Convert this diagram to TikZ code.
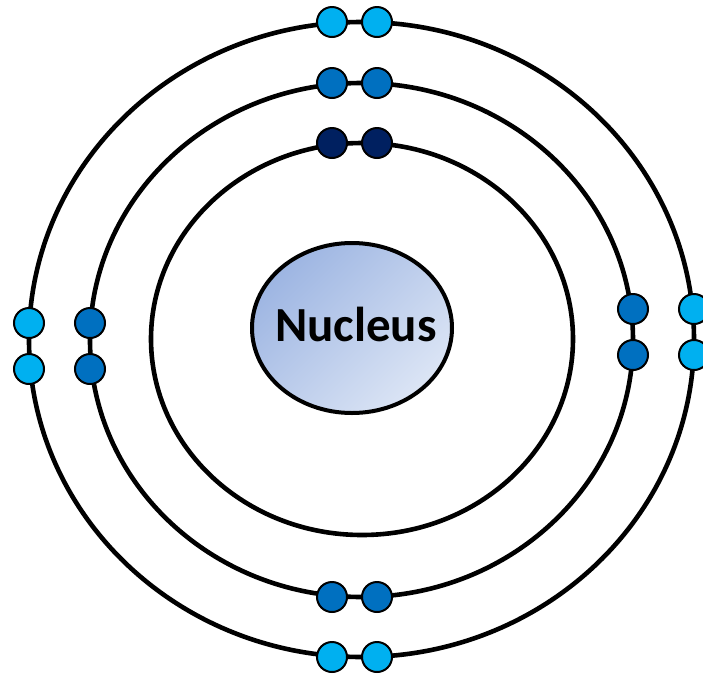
\documentclass[tikz,border=0pt]{standalone}
\usepackage{fontspec}
\setmainfont{Carlito}
\usetikzlibrary{shapes.geometric}
\definecolor{shellA}{HTML}{002060}
\definecolor{shellB}{HTML}{0070C0}
\definecolor{shellC}{HTML}{00B0F0}
\definecolor{nucDark}{HTML}{9DB5E2}
\definecolor{nucLight}{HTML}{DCE5F5}
\begin{document}
\begin{tikzpicture}[x=0.5pt,y=-0.5pt,
  orbit/.style={draw=black,line width=2.3pt},
  elec/.style={circle,draw=black,line width=1pt,minimum size=15pt,inner sep=0pt},
  inner/.style={elec,fill=shellA},
  middle/.style={elec,fill=shellB},
  outer/.style={elec,fill=shellC}]
\useasboundingbox (0,0) rectangle (703,676);
% shells
\draw[orbit] (362,339) ellipse [x radius=211,y radius=196];
\draw[orbit] (361.5,340) ellipse [x radius=271.5,y radius=257];
\draw[orbit] (361.5,339.5) ellipse [x radius=332.5,y radius=317.5];
% nucleus
\node[ellipse,draw=black,line width=2pt,minimum width=100pt,minimum height=85pt,
  inner sep=0pt,top color=nucDark,bottom color=nucLight,shading angle=45,
  label={[font=\bfseries\fontsize{24.5}{28}\selectfont,xshift=2pt,yshift=2pt]center:Nucleus}]
  (nucleus) at (352,328) {};
% first shell
\node[inner] (a1) at (332,143) {};
\node[inner] (a2) at (377,143) {};
% second shell
\node[middle] (b1) at (332,83) {};
\node[middle] (b2) at (377,83) {};
\node[middle] (b3) at (90,323) {};
\node[middle] (b4) at (90,369) {};
\node[middle] (b5) at (633,309) {};
\node[middle] (b6) at (633,355) {};
\node[middle] (b7) at (332,597) {};
\node[middle] (b8) at (377,597) {};
% third shell
\node[outer] (c1) at (332,22) {};
\node[outer] (c2) at (377,22) {};
\node[outer] (c3) at (29,323) {};
\node[outer] (c4) at (29,369) {};
\node[outer] (c5) at (694,309) {};
\node[outer] (c6) at (694,355) {};
\node[outer] (c7) at (332,657) {};
\node[outer] (c8) at (377,657) {};
\end{tikzpicture}
\end{document}
